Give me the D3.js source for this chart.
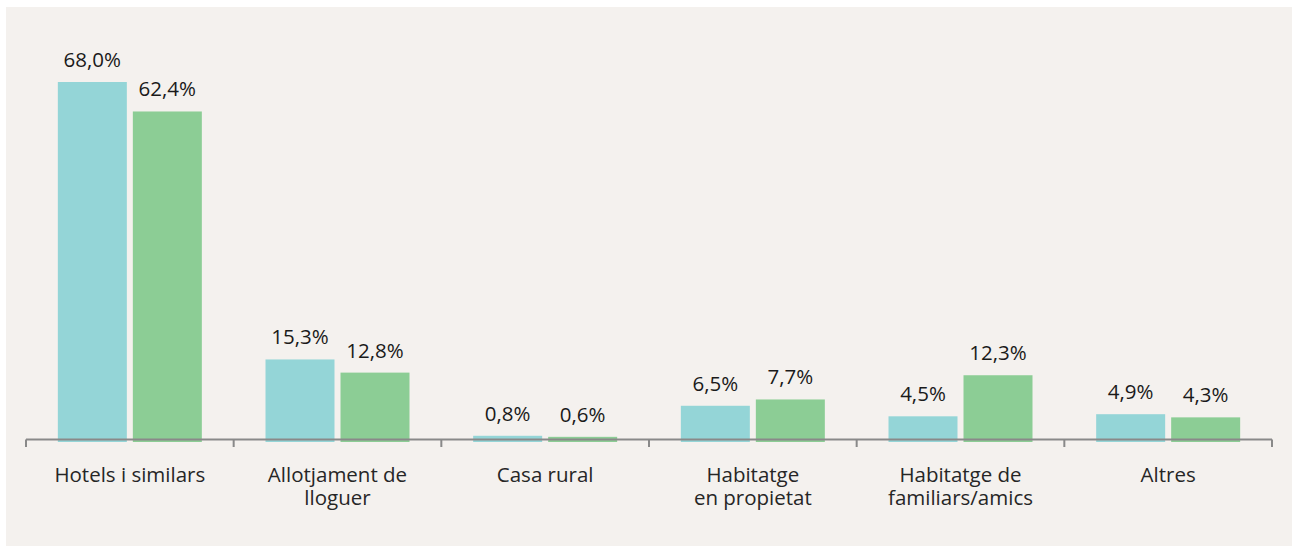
<!DOCTYPE html>
<html>
<head>
<meta charset="utf-8">
<script src="https://cdn.jsdelivr.net/npm/d3@7"></script>
<style>
  html, body { margin: 0; padding: 0; background: #ffffff; }
  svg { display: block; }
  text { font-family: "Open Sans", sans-serif; }
</style>
</head>
<body>
<svg id="chart" width="1292" height="546"></svg>
<script>
// categories (lines of each label)
let categories = [
  ["Hotels i similars"],
  ["Allotjament de", "lloguer"],
  ["Casa rural"],
  ["Habitatge", "en propietat"],
  ["Habitatge de", "familiars/amics"],
  ["Altres"]
];
let series = ["s1", "s2"];
let valuesS1 = [68.0, 15.3, 0.8, 6.5, 4.5, 4.9];
let valuesS2 = [62.4, 12.8, 0.6, 7.7, 12.3, 4.3];
let colors = ["#94d5d7", "#8ccd95"];

let fmt = v => v.toFixed(1).replace(".", ",") + "%";

let svg = d3.select("#chart");

// panel
svg.append("rect")
  .attr("x", 6).attr("y", 7)
  .attr("width", 1286).attr("height", 539)
  .attr("fill", "#f4f1ee");

let keys = categories.map((c, i) => i);

let x0 = d3.scaleBand()
  .domain(keys)
  .range([26, 1272])
  .padding(0);

let x1 = d3.scaleBand()
  .domain(series)
  .range([0, x0.bandwidth()])
  .paddingInner(0.08)
  .paddingOuter(0.4244);

let y = d3.scaleLinear()
  .domain([0, 68])
  .range([440, 82]);

let rows = [];
keys.forEach(i => {
  rows.push({cat: i, s: "s1", v: valuesS1[i], c: colors[0]});
  rows.push({cat: i, s: "s2", v: valuesS2[i], c: colors[1]});
});

let bars = svg.append("g").attr("class", "bars");
bars.selectAll("rect")
  .data(rows)
  .enter()
  .append("rect")
  .attr("x", d => x0(d.cat) + x1(d.s))
  .attr("y", d => y(d.v))
  .attr("width", x1.bandwidth())
  .attr("height", d => y(0) - y(d.v) + 2)
  .attr("fill", d => d.c);

// value labels
svg.append("g").selectAll("text")
  .data(rows)
  .enter()
  .append("text")
  .attr("x", d => x0(d.cat) + x1(d.s) + x1.bandwidth() / 2)
  .attr("y", d => y(d.v) - 15)
  .attr("text-anchor", "middle")
  .attr("font-size", "20.5px")
  .attr("fill", "#1a1a1a")
  .text(d => fmt(d.v));

// axis line + ticks at band edges
let ax = svg.append("g").attr("stroke", "#898989").attr("stroke-width", 2);
ax.append("line")
  .attr("x1", x0.range()[0]).attr("x2", x0.range()[1])
  .attr("y1", y(0) - 0.5).attr("y2", y(0) - 0.5);
let edges = keys.map(k => x0(k)).concat([x0.range()[1]]);
ax.selectAll("line.tick")
  .data(edges)
  .enter()
  .append("line")
  .attr("class", "tick")
  .attr("x1", d => d).attr("x2", d => d)
  .attr("y1", y(0) - 0.5).attr("y2", y(0) + 7);

// category labels
let cl = svg.append("g").selectAll("text")
  .data(keys)
  .enter()
  .append("text")
  .attr("text-anchor", "middle")
  .attr("font-size", "20.5px")
  .attr("fill", "#262626");
cl.selectAll("tspan")
  .data(i => categories[i].map(t => ({t: t, i: i})))
  .enter()
  .append("tspan")
  .attr("x", d => x0(d.i) + x0.bandwidth() / 2)
  .attr("y", (d, j) => 482 + j * 23)
  .text(d => d.t);
</script>
</body>
</html>
